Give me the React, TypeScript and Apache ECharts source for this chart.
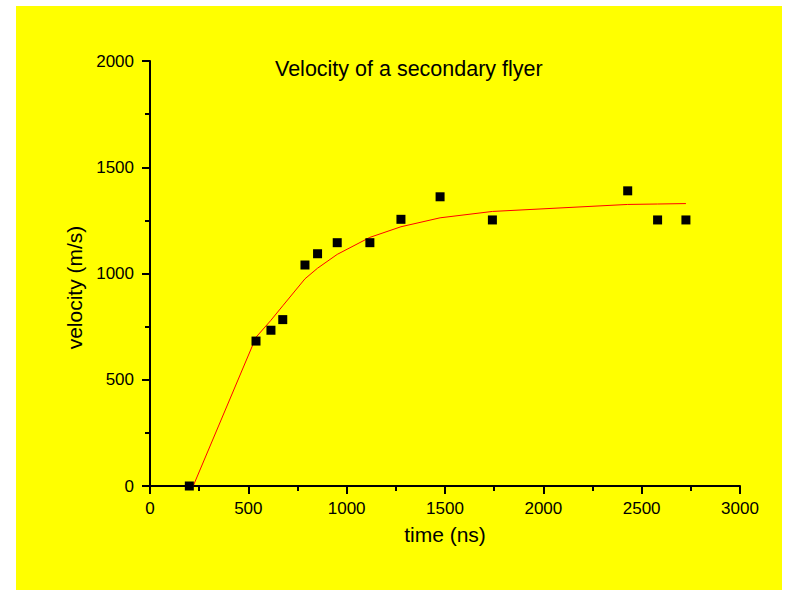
import React, { useEffect, useRef } from "react";
import * as echarts from "echarts";

const timeNs = [200, 539, 615, 675, 788, 852, 952, 1118, 1276, 1475, 1741, 2429, 2581, 2725];
const velocity = [0, 682, 733, 783, 1040, 1093, 1145, 1145, 1255, 1361, 1252, 1389, 1252, 1252];
const fitVelocity = [-43, 700, 780, 848, 975, 1025, 1090, 1170, 1220, 1262, 1292, 1325, 1327, 1329];

const FONT = "'Liberation Sans', Arial, Helvetica, sans-serif";

export default function App() {
  const ref = useRef<HTMLDivElement>(null);
  useEffect(() => {
    if (!ref.current) return;
    const chart = echarts.init(ref.current, undefined, { renderer: "svg" });
    const axisCommon = {
      axisLine: { show: true, onZero: false, lineStyle: { color: "#000", width: 2 } },
      axisTick: { show: true, inside: false, length: 8, lineStyle: { color: "#000", width: 2 } },
      minorTick: { show: true, splitNumber: 2, length: 5, lineStyle: { color: "#000", width: 2 } },
      splitLine: { show: false },
      minorSplitLine: { show: false },
      axisLabel: {
        color: "#000",
        fontSize: 17,
        fontFamily: FONT,
        formatter: (v: number) => String(v),
      },
      nameTextStyle: { color: "#000", fontSize: 21, fontFamily: FONT },
    };
    chart.setOption({
      animation: false,
      backgroundColor: "#ffffff",
      textStyle: { fontFamily: FONT },
      title: {
        text: "Velocity of a secondary flyer",
        left: 275,
        top: 58,
        padding: 0,
        textStyle: { color: "#000", fontSize: 21.5, fontWeight: "normal", fontFamily: FONT },
      },
      graphic: [
        {
          type: "rect",
          z: -100,
          silent: true,
          shape: { x: 16, y: 6, width: 766, height: 584 },
          style: { fill: "#ffff00" },
        },
      ],
      grid: { left: 150, right: 58, top: 61, bottom: 106, containLabel: false },
      xAxis: {
        type: "value",
        min: 0,
        max: 3000,
        interval: 500,
        name: "time (ns)",
        nameLocation: "middle",
        nameGap: 38,
        ...axisCommon,
        axisLabel: { ...axisCommon.axisLabel, margin: 14 },
      },
      yAxis: {
        type: "value",
        min: 0,
        max: 2000,
        interval: 500,
        name: "velocity (m/s)",
        nameLocation: "middle",
        nameRotate: 90,
        nameGap: 62,
        ...axisCommon,
        nameTextStyle: { ...axisCommon.nameTextStyle, padding: [0, 28, 0, 0] },
        axisLabel: { ...axisCommon.axisLabel, margin: 16 },
      },
      series: [
        {
          type: "line",
          name: "fit",
          data: timeNs.map((t, i) => [t, fitVelocity[i]]),
          showSymbol: false,
          symbol: "none",
          clip: true,
          lineStyle: { color: "#ff0000", width: 1 },
          z: 2,
        },
        {
          type: "scatter",
          name: "data",
          data: timeNs.map((t, i) => [t, velocity[i]]),
          symbol: "rect",
          symbolSize: 9,
          itemStyle: { color: "#000000", opacity: 1 },
          clip: false,
          z: 3,
        },
      ],
    });
    return () => chart.dispose();
  }, []);
  return (
    <div
      ref={ref}
      style={{ position: "absolute", left: 0, top: 0, width: 798, height: 592 }}
    />
  );
}
